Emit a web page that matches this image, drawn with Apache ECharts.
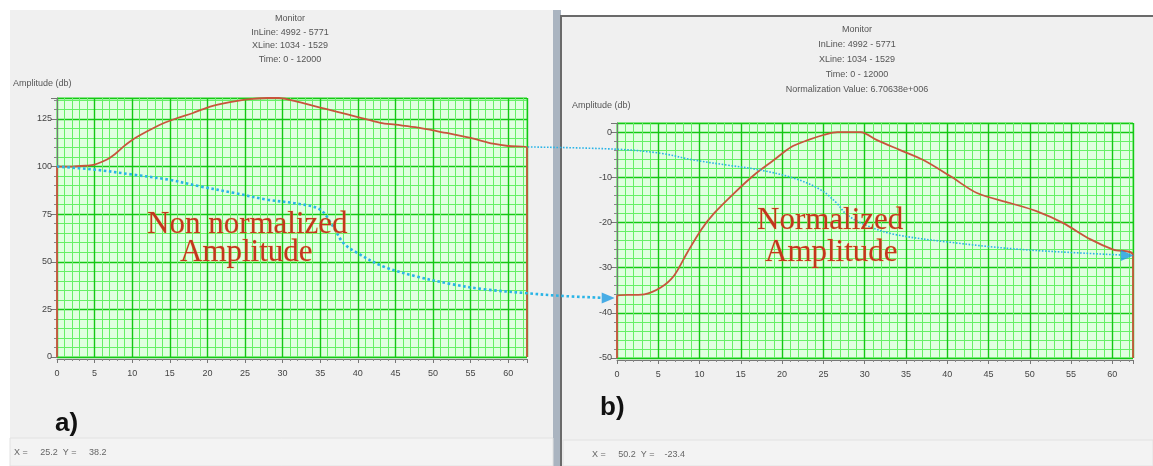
<!DOCTYPE html>
<html>
<head>
<meta charset="utf-8">
<script src="https://cdn.jsdelivr.net/npm/echarts@6/dist/echarts.min.js"></script>
<style>
  html, body { margin: 0; padding: 0; background: #ffffff; }
  #chart { width: 1153px; height: 466px; }
</style>
</head>
<body>
<div id="chart"></div>
<script>
// amplitude curves
const rawAmplitude = [
  [0, 0], [0, 100], [2, 100], [4, 100.5], [5, 101], [6, 102.5], [7, 104.5], [8, 107.5],
  [9, 111], [10, 114], [12, 118.5], [14, 122.5], [16, 125.5], [18, 128], [20, 131],
  [22, 133], [24, 134.5], [26, 135.5], [28, 136], [29.5, 136], [31, 135], [33, 133],
  [35, 131], [37, 129], [40, 126], [43, 123], [45, 122], [48, 120.5], [50, 119],
  [52, 117.5], [55, 115], [58, 112], [60, 110.8], [62.5, 110.3], [62.5, 0]
]
const normAmplitude = [
  [0, -50], [0, -36.2], [3.3, -35.9], [5.3, -34.4], [6.9, -31.8], [8.5, -26.7],
  [10.2, -21.6], [11.8, -17.9], [14.2, -13.5], [16.6, -9.5], [19, -6.2], [21.1, -3.3],
  [23.1, -1.8], [25.1, -0.6], [26.7, 0], [29.5, 0], [31.5, -1.8], [34.3, -4],
  [37.1, -6.2], [40.4, -9.8], [43.6, -13.5], [47.6, -15.7], [50.8, -17.5], [54, -20.1],
  [57.3, -23.7], [60.1, -26], [62.5, -27.2], [62.5, -50]
]

// dotted annotation arrows (arrow A in plot a units, arrow B in plot b units)
// both run past their own plot, so each sits on a wider hidden copy of its axes
const arrowA = [
  [0, 100], [5, 98.4], [10, 95.8], [15, 93], [19, 89.6], [23.5, 86.2], [28, 82.6],
  [32, 80.5], [35, 77.4], [36.7, 68.6], [38.1, 59.8], [40, 54.5], [43.4, 47.5],
  [47.8, 42.3], [52.3, 38.4], [56.7, 35.6], [62.5, 33.5], [67, 32.1], [72.5, 31.1]
]
const arrowAHead = [[73.3, 31]]
const arrowB = [
  [-10.8, -3.3], [0, -3.8], [5.3, -4.7], [9.3, -6.2], [13.3, -7.3], [17.3, -8.4],
  [21.4, -10.2], [24.6, -12.7], [26.6, -15.7], [27.8, -18.2], [30, -20.5], [33.5, -22.6],
  [40.4, -24.4], [48.4, -25.9], [56.5, -26.8], [61, -27.2]
]
const arrowBHead = [[61.8, -27.3]]

const headerA = ['Monitor', 'InLine: 4992 - 5771', 'XLine: 1034 - 1529', 'Time: 0 - 12000']
const headerB = headerA.concat(['Normalization Value: 6.70638e+006'])
const statusA = 'X =     25.2  Y =     38.2'
const statusB = 'X =     50.2  Y =    -23.4'

const chart = echarts.init(document.getElementById('chart'))

const smallFont = '9px "Liberation Sans", Arial, sans-serif'
const bigFont = '31px "Liberation Serif", "Times New Roman", serif'

function xAxisFor(gridIndex) {
  return {
    type: 'value',
    gridIndex,
    min: 0,
    max: 62.5,
    interval: 5,
    offset: 2,
    axisLine: { onZero: false, lineStyle: { color: '#777', width: 1 } },
    axisTick: { length: 4, lineStyle: { color: '#777' } },
    minorTick: { show: true, splitNumber: 5, length: 2, lineStyle: { color: '#888' } },
    axisLabel: { color: '#444', fontSize: 9, margin: 10, showMaxLabel: false },
    splitLine: { lineStyle: { color: '#14c814', width: 1.4 } },
    minorSplitLine: { show: true, lineStyle: { color: '#66f066', width: 1 } },
  }
}

function yAxisFor(gridIndex, min, max, interval) {
  return {
    type: 'value',
    gridIndex,
    min,
    max,
    interval,
    axisLine: { show: true, onZero: false, lineStyle: { color: '#777', width: 1 } },
    axisTick: { length: 6, lineStyle: { color: '#777' } },
    minorTick: { show: true, splitNumber: 5, length: 3, lineStyle: { color: '#888' } },
    axisLabel: { color: '#444', fontSize: 9, margin: 5, showMaxLabel: false },
    splitLine: { lineStyle: { color: '#14c814', width: 1.4 } },
    minorSplitLine: { show: true, lineStyle: { color: '#66f066', width: 1 } },
  }
}

function hiddenAxis(gridIndex, min, max) {
  return { type: 'value', gridIndex, min, max, show: false, splitLine: { show: false } }
}

function headerText(lines, x, y, lh) {
  return {
    type: 'text', z: 50, x, y,
    style: { text: lines.join('\n'), font: smallFont, fill: '#555', align: 'center', verticalAlign: 'top', lineHeight: lh },
  }
}

function label(text, x, y) {
  return {
    type: 'text', z: 60, x, y,
    style: { text, font: bigFont, fill: '#c4341e', stroke: 'rgba(240,190,60,0.35)', lineWidth: 1, verticalAlign: 'middle' },
  }
}

function arrowLine(data, gi, width) {
  return {
    type: 'line', xAxisIndex: gi, yAxisIndex: gi, data, smooth: 0.35,
    symbol: 'none', z: 5, silent: true,
    lineStyle: { color: '#2ab4e6', width, type: 'dotted' },
  }
}

function arrowHead(data, gi) {
  return {
    type: 'scatter', xAxisIndex: gi, yAxisIndex: gi, data, z: 6,
    symbol: 'triangle', symbolSize: [11, 13], symbolRotate: -90,
    itemStyle: { color: '#1d9be2' },
  }
}

function ampLine(data, gi) {
  return {
    type: 'line', xAxisIndex: gi, yAxisIndex: gi, data, smooth: 0.3, symbol: 'none', z: 4,
    lineStyle: { color: '#c8553c', width: 1.8 },
  }
}

chart.setOption({
  animation: false,
  graphic: [
    // window panels
    { type: 'rect', z: -1, shape: { x: 10, y: 10, width: 543, height: 456 }, style: { fill: '#f0f0f0' } },
    { type: 'rect', z: -1, shape: { x: 553, y: 10, width: 8, height: 456 }, style: { fill: '#aab4c0' } },
    { type: 'rect', z: -1, shape: { x: 561, y: 16, width: 600, height: 460 }, style: { fill: '#f0f0f0', stroke: '#6a6a6a', lineWidth: 2 } },
    { type: 'rect', z: -1, shape: { x: 10, y: 438, width: 543, height: 28 }, style: { fill: '#f3f3f3', stroke: '#e2e2e2', lineWidth: 1 } },
    { type: 'rect', z: -1, shape: { x: 563, y: 440, width: 590, height: 26 }, style: { fill: '#f3f3f3', stroke: '#e2e2e2', lineWidth: 1 } },
    headerText(headerA, 290, 12, 13.5),
    headerText(headerB, 857, 22, 15),
    { type: 'text', z: 50, x: 13, y: 84, style: { text: 'Amplitude (db)', font: smallFont, fill: '#555', verticalAlign: 'middle' } },
    { type: 'text', z: 50, x: 572, y: 106, style: { text: 'Amplitude (db)', font: smallFont, fill: '#555', verticalAlign: 'middle' } },
    label('Non normalized', 147, 225),
    label('Amplitude', 180, 253),
    label('Normalized', 757, 221),
    label('Amplitude', 765, 253),
    { type: 'text', z: 50, x: 55, y: 424, style: { text: 'a)', font: 'bold 26px "Liberation Sans", Arial, sans-serif', fill: '#111', verticalAlign: 'middle' } },
    { type: 'text', z: 50, x: 600, y: 408, style: { text: 'b)', font: 'bold 26px "Liberation Sans", Arial, sans-serif', fill: '#111', verticalAlign: 'middle' } },
    { type: 'text', z: 50, x: 14, y: 453, style: { text: statusA, font: smallFont, fill: '#666', verticalAlign: 'middle' } },
    { type: 'text', z: 50, x: 592, y: 455, style: { text: statusB, font: smallFont, fill: '#666', verticalAlign: 'middle' } },
  ],
  grid: [
    { left: 57, top: 98, width: 470, height: 259, show: true, backgroundColor: '#e0ffe0', borderColor: '#66f066', borderWidth: 1 },
    { left: 617, top: 123, width: 516, height: 235, show: true, backgroundColor: '#e0ffe0', borderColor: '#66f066', borderWidth: 1 },
    // plot a scale carried across to plot b (7.52 px per unit)
    { left: 57, top: 98, width: 560, height: 259, show: false },
    // plot b scale carried back to plot a (8.256 px per unit)
    { left: 527, top: 123, width: 606, height: 235, show: false },
  ],
  xAxis: [xAxisFor(0), xAxisFor(1), hiddenAxis(2, 0, 74.47), hiddenAxis(3, -10.9, 62.5)],
  yAxis: [yAxisFor(0, 0, 136, 25), yAxisFor(1, -50, 2, 10), hiddenAxis(2, 0, 136), hiddenAxis(3, -50, 2)],
  series: [
    ampLine(rawAmplitude, 0),
    ampLine(normAmplitude, 1),
    arrowLine(arrowA, 2, 2.6),
    arrowHead(arrowAHead, 2),
    arrowLine(arrowB, 3, 1.6),
    arrowHead(arrowBHead, 3),
  ],
})
</script>
</body>
</html>
